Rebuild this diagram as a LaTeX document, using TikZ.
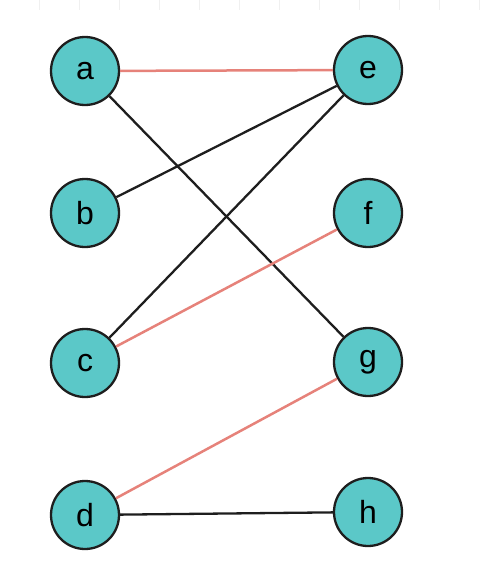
\documentclass[tikz,border=0pt]{standalone}
\usepackage{fontspec}
\setmainfont{Liberation Sans}
\usetikzlibrary{positioning}

\definecolor{vtxfill}{RGB}{91,200,200}
\definecolor{edgered}{RGB}{230,130,122}
\definecolor{edgeblack}{RGB}{30,30,30}

\tikzset{
  vtx/.style={circle,draw=edgeblack,line width=2.3pt,fill=vtxfill,minimum size=68pt,inner sep=0pt,font=\fontsize{32}{32}\selectfont},
  redge/.style={draw=edgered,line width=2.5pt},
  bedge/.style={draw=edgeblack,line width=2.3pt}
}

\begin{document}
\begin{tikzpicture}[x=1pt,y=-1pt]
  \useasboundingbox (0,0) rectangle (482,570);
  % faint ruler ticks along the top
  \foreach \t in {39,79,...,479}
    \draw[gray!12,line width=0.8pt] (\t,0) -- (\t,10);
  % left column
  \node[vtx] (a) at (85,71) {a};
  \node[vtx] (b) at (85,213) {b};
  \node[vtx] (c) at (85,363) {c};
  \node[vtx] (d) at (85,515) {d};
  % right column
  \node[vtx] (e) at (368,70) {e};
  \node[vtx] (f) at (368,213) {f};
  \node[vtx] (g) at (368,362) {g};
  \node[vtx] (h) at (368,512) {h};
  % edges
  \draw[redge] (a) -- (e);
  \draw[bedge] (a) -- (g);
  \draw[bedge] (b) -- (e);
  \draw[bedge] (c) -- (e);
  \draw[redge] (c) -- (f);
  \draw[redge] (d) -- (g);
  \draw[bedge] (d) -- (h);
\end{tikzpicture}
\end{document}
